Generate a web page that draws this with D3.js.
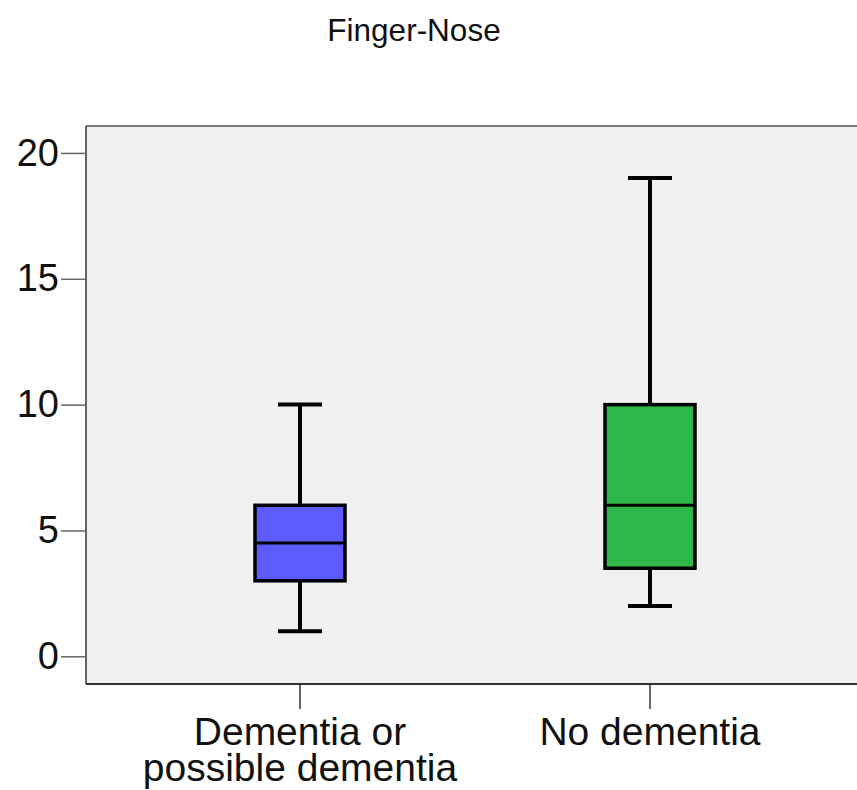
<!DOCTYPE html>
<html>
<head>
<meta charset="utf-8">
<script src="https://cdn.jsdelivr.net/npm/d3@7"></script>
<style>
  body { margin: 0; background: #fff; }
  svg { display: block; font-family: "Liberation Sans", Arial, sans-serif; }
</style>
</head>
<body>
<svg width="857" height="790"></svg>
<script>
var groups = [["Dementia or", "possible dementia"], ["No dementia"]];
var lowWhisker = [1, 2];
var q1 = [3, 3.5];
var median = [4.5, 6];
var q3 = [6, 10];
var highWhisker = [10, 19];
var colors = ["#5b5bff", "#2eb84a"];
var yTicks = [0, 5, 10, 15, 20];

var svg = d3.select("svg");
var plotLeft = 86, plotRight = 857, plotTop = 126, plotBottom = 684;

var x = d3.scaleBand()
    .domain(d3.range(groups.length))
    .range([125, 825]);
var y = d3.scaleLinear()
    .domain([-1.1, 21.07])
    .range([plotBottom, plotTop]);

// plot background
svg.append("rect")
    .attr("x", plotLeft).attr("y", plotTop)
    .attr("width", plotRight - plotLeft).attr("height", plotBottom - plotTop)
    .attr("fill", "#f0f0f0");
svg.append("line")
    .attr("x1", plotLeft).attr("x2", plotRight).attr("y1", plotTop).attr("y2", plotTop)
    .attr("stroke", "#7a7a7a").attr("stroke-width", 2);
svg.append("line")
    .attr("x1", plotLeft).attr("x2", plotRight).attr("y1", plotBottom).attr("y2", plotBottom)
    .attr("stroke", "#333").attr("stroke-width", 2);
svg.append("line")
    .attr("x1", plotLeft).attr("x2", plotLeft).attr("y1", plotTop).attr("y2", plotBottom)
    .attr("stroke", "#333").attr("stroke-width", 1.5);

// y axis
var yAxis = svg.append("g")
    .attr("transform", "translate(" + plotLeft + ",0)")
    .call(d3.axisLeft(y).tickValues(yTicks).tickSize(25).tickPadding(2));
yAxis.select(".domain").remove();
yAxis.selectAll(".tick line").attr("stroke", "#666").attr("stroke-width", 1.5);
yAxis.selectAll(".tick text")
    .attr("font-size", 38).attr("fill", "#111")
    .attr("font-family", "Liberation Sans, Arial, sans-serif");

// x axis
var xAxis = svg.append("g")
    .attr("transform", "translate(0," + plotBottom + ")")
    .call(d3.axisBottom(x).tickSize(25).tickFormat(""));
xAxis.select(".domain").remove();
xAxis.selectAll(".tick line").attr("stroke", "#333").attr("stroke-width", 1.5);

groups.forEach(function(lines, i) {
    var t = svg.append("text")
        .attr("text-anchor", "middle")
        .attr("font-size", 39)
        .attr("fill", "#111");
    lines.forEach(function(s, j) {
        t.append("tspan")
            .attr("x", x(i) + x.bandwidth() / 2)
            .attr("y", 745 + j * 36)
            .text(s);
    });
});

// boxes
var boxW = 90, capW = 44;
var box = svg.selectAll(".box")
    .data(groups)
    .enter()
    .append("g")
    .attr("class", "box");

box.append("line")
    .attr("x1", (d, i) => x(i) + x.bandwidth() / 2)
    .attr("x2", (d, i) => x(i) + x.bandwidth() / 2)
    .attr("y1", (d, i) => y(highWhisker[i]))
    .attr("y2", (d, i) => y(lowWhisker[i]))
    .attr("stroke", "#000").attr("stroke-width", 4);
[highWhisker, lowWhisker].forEach(function(arr) {
    box.append("line")
        .attr("x1", (d, i) => x(i) + x.bandwidth() / 2 - capW / 2)
        .attr("x2", (d, i) => x(i) + x.bandwidth() / 2 + capW / 2)
        .attr("y1", (d, i) => y(arr[i]))
        .attr("y2", (d, i) => y(arr[i]))
        .attr("stroke", "#000").attr("stroke-width", 4);
});
box.append("rect")
    .attr("x", (d, i) => x(i) + x.bandwidth() / 2 - boxW / 2)
    .attr("width", boxW)
    .attr("y", (d, i) => y(q3[i]))
    .attr("height", (d, i) => y(q1[i]) - y(q3[i]))
    .attr("fill", (d, i) => colors[i])
    .attr("stroke", "#000").attr("stroke-width", 3.5);
box.append("line")
    .attr("x1", (d, i) => x(i) + x.bandwidth() / 2 - boxW / 2)
    .attr("x2", (d, i) => x(i) + x.bandwidth() / 2 + boxW / 2)
    .attr("y1", (d, i) => y(median[i]))
    .attr("y2", (d, i) => y(median[i]))
    .attr("stroke", "#000").attr("stroke-width", 3);

// title
svg.append("text")
    .attr("x", 414).attr("y", 41)
    .attr("text-anchor", "middle")
    .attr("font-size", 31.5)
    .attr("fill", "#111")
    .text("Finger-Nose");
</script>
</body>
</html>
